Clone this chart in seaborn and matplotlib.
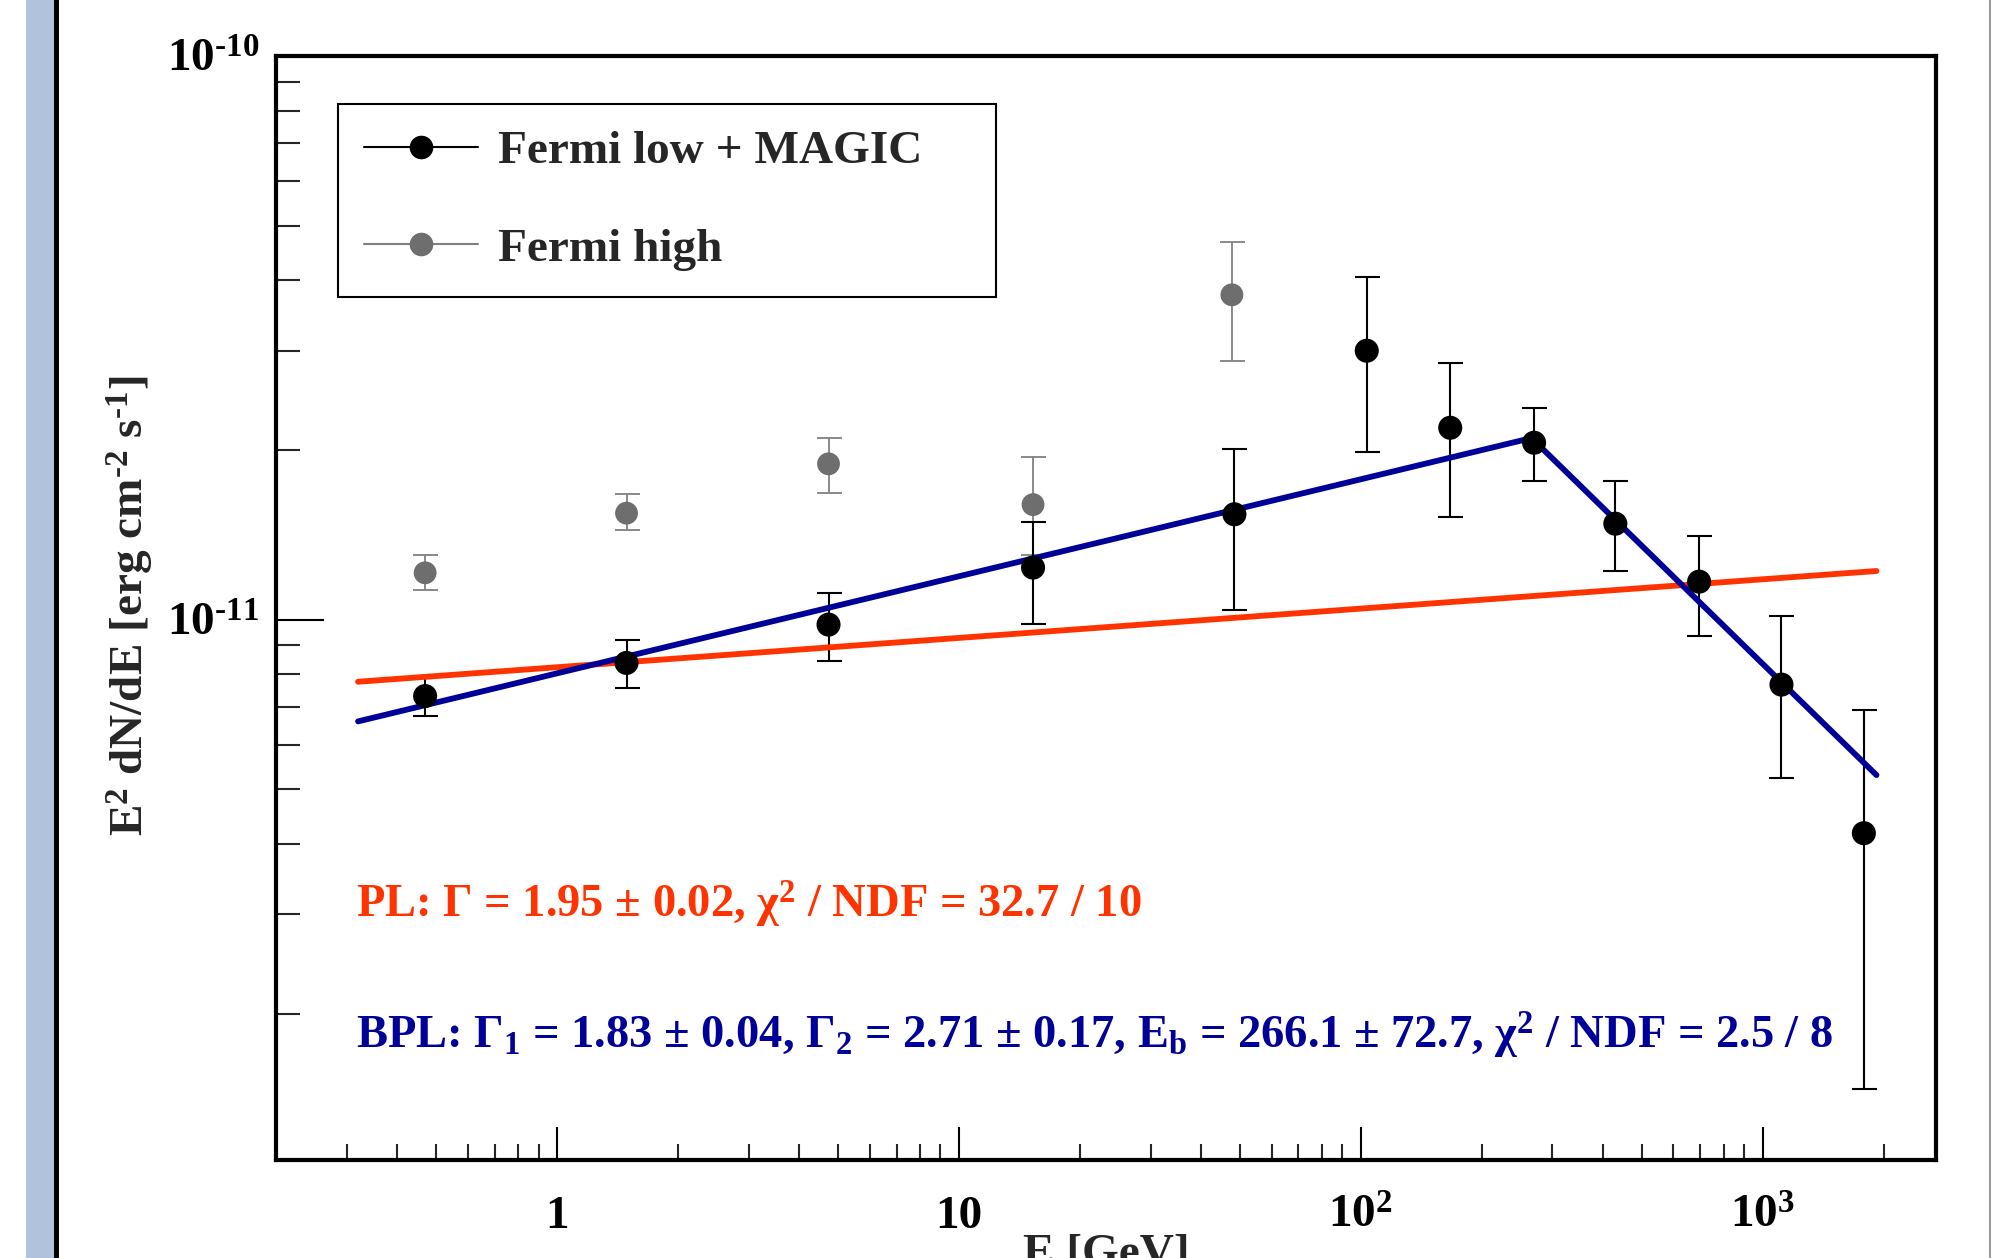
import numpy as np
import pandas as pd
import matplotlib
matplotlib.use("Agg")
import matplotlib.pyplot as plt
import seaborn as sns
from matplotlib.ticker import LogLocator, NullFormatter
from matplotlib.lines import Line2D
from matplotlib.patches import Rectangle

# ---- data: E [GeV] and E^2 dN/dE [erg cm^-2 s^-1] ----
energy_low = [0.47, 1.49, 4.74, 15.3, 48.5, 103.5, 167.0, 270.0, 430.0, 695.0, 1114.0, 1786.0]
flux_low = [7.32e-12, 8.38e-12, 9.80e-12, 1.237e-11, 1.538e-11, 3.00e-11,
            2.19e-11, 2.06e-11, 1.48e-11, 1.168e-11, 7.67e-12, 4.18e-12]
flux_low_hi = [7.96e-12, 9.20e-12, 1.114e-11, 1.49e-11, 2.01e-11, 4.06e-11,
               2.85e-11, 2.37e-11, 1.76e-11, 1.41e-11, 1.016e-11, 6.92e-12]
flux_low_lo = [6.74e-12, 7.55e-12, 8.43e-12, 9.84e-12, 1.04e-11, 1.98e-11,
               1.52e-11, 1.76e-11, 1.22e-11, 9.35e-12, 5.23e-12, 1.47e-12]

energy_high = [0.47, 1.49, 4.74, 15.3, 47.8]
flux_high = [1.211e-11, 1.545e-11, 1.89e-11, 1.60e-11, 3.77e-11]
flux_high_hi = [1.30e-11, 1.67e-11, 2.10e-11, 1.94e-11, 4.67e-11]
flux_high_lo = [1.127e-11, 1.44e-11, 1.68e-11, 1.30e-11, 2.88e-11]

# fitted models (straight segments in log-log space)
pl_energy = [0.32, 1920.0]
pl_flux = [7.76e-12, 1.22e-11]
bpl_energy = [0.32, 266.1, 1920.0]
bpl_flux = [6.6e-12, 2.1e-11, 5.3e-12]

x_ticks = [1, 10, 100, 1000]
x_ticklabels = ["1", "10", "$10^{2}$", "$10^{3}$"]
y_ticks = [1e-11, 1e-10]
y_ticklabels = [r"$10^{\text{-}11}$", r"$10^{\text{-}10}$"]

pl_text = "PL: Γ = 1.95 ± 0.02, χ$^{2}$ / NDF = 32.7 / 10"
bpl_text = ("BPL: Γ$_{1}$ = 1.83 ± 0.04, Γ$_{2}$ = 2.71 ± 0.17, "
            "E$_{b}$ = 266.1 ± 72.7, χ$^{2}$ / NDF = 2.5 / 8")
y_label = r"E$^{2}$ dN/dE [erg cm$^{\text{-}2}$ s$^{\text{-}1}$]"

RED = "#FF3300"
BLUE = "#000099"
GREY = "#6E6E6E"

# ---- style ----
sns.set_theme(style="white")
plt.rcParams["font.family"] = ["Liberation Serif", "DejaVu Serif"]
plt.rcParams["font.weight"] = "bold"
plt.rcParams["mathtext.fontset"] = "custom"
plt.rcParams["mathtext.rm"] = "Liberation Serif:bold"
plt.rcParams["mathtext.it"] = "Liberation Serif:bold:italic"
plt.rcParams["mathtext.bf"] = "Liberation Serif:bold"
plt.rcParams["mathtext.default"] = "rm"

FS = 34

fig = plt.figure(figsize=(19.92, 12.58), dpi=100)
fig.patch.set_facecolor("white")

# page decoration: blue side band and frame lines
fig.patches.append(Rectangle((26 / 1992, 0), 28 / 1992, 1, transform=fig.transFigure,
                             facecolor="#B0C2DC", edgecolor="none", zorder=0))
fig.patches.append(Rectangle((54 / 1992, 0), 5 / 1992, 1, transform=fig.transFigure,
                             facecolor="black", edgecolor="none", zorder=0))
fig.patches.append(Rectangle((1989 / 1992, 0), 2 / 1992, 1, transform=fig.transFigure,
                             facecolor="#9A9A9A", edgecolor="none", zorder=0))

ax = fig.add_axes([276 / 1992, 1 - 1160 / 1258, 1660 / 1992, 1104 / 1258])
ax.set_xscale("log")
ax.set_yscale("log")
ax.set_xlim(0.2, 2700)
ax.set_ylim(1.1e-12, 1e-10)

low = pd.DataFrame({"E": energy_low, "F": flux_low, "hi": flux_low_hi, "lo": flux_low_lo})
high = pd.DataFrame({"E": energy_high, "F": flux_high, "hi": flux_high_hi, "lo": flux_high_lo})

# error bars
ax.errorbar(high["E"], high["F"], yerr=[high["F"] - high["lo"], high["hi"] - high["F"]],
            fmt="none", ecolor="#808080", elinewidth=1.3, capsize=9, capthick=1.3, zorder=2)
ax.errorbar(low["E"], low["F"], yerr=[low["F"] - low["lo"], low["hi"] - low["F"]],
            fmt="none", ecolor="black", elinewidth=1.5, capsize=9, capthick=1.5, zorder=2)

# fit curves
pl = pd.DataFrame({"E": pl_energy, "F": pl_flux})
bpl = pd.DataFrame({"E": bpl_energy, "F": bpl_flux})
sns.lineplot(data=pl, x="E", y="F", color=RED, lw=4.2, sort=False, estimator=None, ax=ax, zorder=3)
sns.lineplot(data=bpl, x="E", y="F", color=BLUE, lw=4.2, sort=False, estimator=None, ax=ax, zorder=3)

# data points
sns.scatterplot(data=high, x="E", y="F", color=GREY, s=270, edgecolor="none", ax=ax, zorder=4)
sns.scatterplot(data=low, x="E", y="F", color="black", s=300, edgecolor="none", ax=ax, zorder=5)

# axes styling
for side in ["top", "right", "bottom", "left"]:
    ax.spines[side].set_linewidth(3.0)
    ax.spines[side].set_color("black")

ax.set_xticks(x_ticks, x_ticklabels)
ax.set_yticks(y_ticks, y_ticklabels)
ax.xaxis.set_minor_locator(LogLocator(base=10, subs=np.arange(2, 10), numticks=100))
ax.yaxis.set_minor_locator(LogLocator(base=10, subs=np.arange(2, 10), numticks=100))
ax.xaxis.set_minor_formatter(NullFormatter())
ax.yaxis.set_minor_formatter(NullFormatter())

ax.tick_params(axis="x", which="major", direction="in", length=24, width=1.5,
               labelsize=FS, pad=49, bottom=True, top=False, colors="black")
ax.tick_params(axis="x", which="minor", direction="in", length=11.5, width=1.5,
               bottom=True, top=False)
ax.tick_params(axis="y", which="major", direction="in", length=34.5, width=1.5,
               labelsize=FS, pad=12, left=True, right=False, colors="black")
ax.tick_params(axis="y", which="minor", direction="in", length=17, width=1.5,
               left=True, right=False)
for lbl in ax.get_xticklabels():
    lbl.set_verticalalignment("baseline")

ax.set_xlabel("")
ax.set_ylabel("")
fig.text(131 / 1992, 1 - 606 / 1258, y_label,
         rotation=90, ha="center", va="center", fontsize=FS, fontweight="bold")
fig.text(1106 / 1992, 1 - 1266 / 1258, "E [GeV]", ha="center", va="baseline",
         fontsize=FS, fontweight="bold")

# fit annotations
ax.text(0.0482, 0.2199, pl_text, transform=ax.transAxes, color=RED, fontsize=33.5,
        fontweight="bold", ha="left", va="baseline")
ax.text(0.0482, 0.1005, bpl_text, transform=ax.transAxes, color=BLUE, fontsize=33.5,
        fontweight="bold", ha="left", va="baseline")

# legend
handles = [
    Line2D([], [], color="black", lw=1.5, marker="o", markersize=17, markeredgewidth=0),
    Line2D([], [], color="#808080", lw=1.5, marker="o", markersize=17,
           markerfacecolor=GREY, markeredgewidth=0),
]
leg = ax.legend(handles, ["Fermi low + MAGIC", "Fermi high"],
                loc="upper left", bbox_to_anchor=(0.0373, 0.7828, 0.3964, 0.1738),
                mode="expand", borderaxespad=0, fontsize=FS, frameon=True, fancybox=False,
                edgecolor="black", framealpha=1, borderpad=0.56, labelspacing=1.15,
                handlelength=2.4, handletextpad=0.42)
leg.get_frame().set_linewidth(1.5)
for t in leg.get_texts():
    t.set_fontweight("bold")

fig.savefig("out.png", dpi=100, facecolor="white")
